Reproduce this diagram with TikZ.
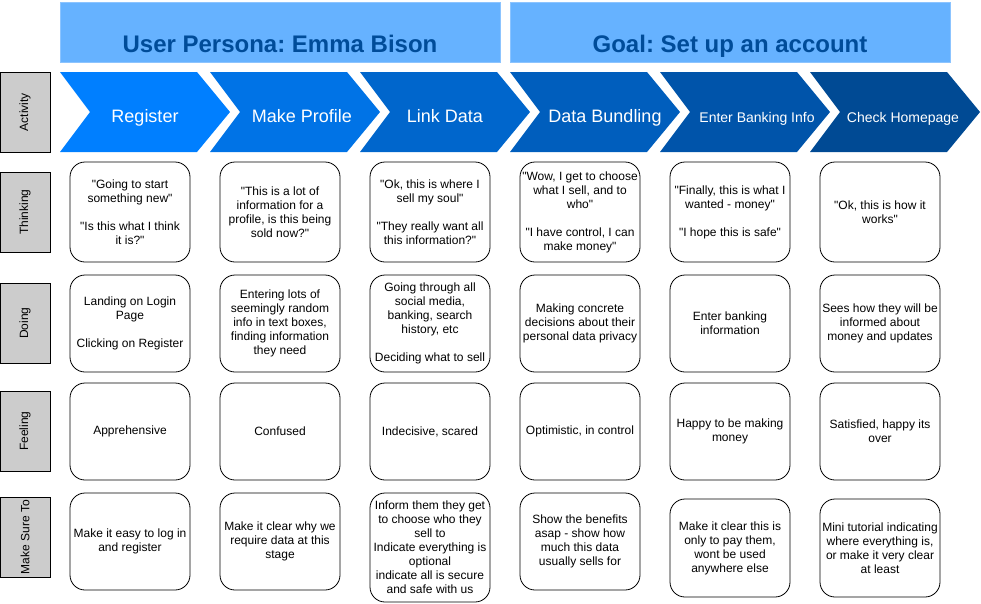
\documentclass[tikz,border=0pt]{standalone}
\usepackage{fontspec}
\newfontfamily\arialfont{Liberation Sans}
\frenchspacing
\definecolor{headblue}{HTML}{66B2FF}
\definecolor{headline}{HTML}{8CC4FF}
\definecolor{headtext}{HTML}{004C99}
\definecolor{stepA}{HTML}{007FFF}
\definecolor{stepB}{HTML}{0073E6}
\definecolor{stepC}{HTML}{0066CC}
\definecolor{stepD}{HTML}{005EBD}
\definecolor{stepE}{HTML}{0054AA}
\definecolor{stepF}{HTML}{004A94}
\definecolor{labelgray}{HTML}{CCCCCC}
\begin{document}
\begin{tikzpicture}[x=1pt,y=-1pt,
    header/.style={fill=headblue, draw=headline, minimum width=440pt, minimum height=60pt, inner sep=0pt},
    headtitle/.style={text=headtext, anchor=base, font=\arialfont\fontsize{24}{28}\selectfont\bfseries},
    steptext/.style={text=white, anchor=base, font=\arialfont\fontsize{18}{20}\selectfont},
    smallstep/.style={steptext, font=\arialfont\fontsize{14}{16}\selectfont},
    rowlabel/.style={draw=black, fill=labelgray, line width=0.8pt, minimum width=80pt, minimum height=50pt, inner sep=0pt, rotate=90, font=\arialfont\fontsize{12}{14}\selectfont},
    card/.style={draw=black, fill=white, line width=0.8pt, rounded corners=15pt, minimum width=120pt, inner sep=0pt, align=center, font=\arialfont\fontsize{12}{14}\selectfont}]
    \useasboundingbox (0,0) rectangle (981,603);

    % headers
    \node[header] (persona) at (280,32) {};
    \node[header] (goal) at (730,32) {};
    \node[headtitle] (personatxt) at (280,52) {User Persona: Emma Bison};
    \node[headtitle] (goaltxt) at (730,52) {Goal: Set up an account};

    % activity chevrons
    \fill[stepA] (60,72) -- (197,72) -- (230,112) -- (197,152) -- (60,152) -- (90,112) -- cycle;
    \fill[stepB] (210,72) -- (347,72) -- (380,112) -- (347,152) -- (210,152) -- (240,112) -- cycle;
    \fill[stepC] (360,72) -- (497,72) -- (530,112) -- (497,152) -- (360,152) -- (390,112) -- cycle;
    \fill[stepD] (510,72) -- (647,72) -- (680,112) -- (647,152) -- (510,152) -- (540,112) -- cycle;
    \fill[stepE] (660,72) -- (797,72) -- (830,112) -- (797,152) -- (660,152) -- (690,112) -- cycle;
    \fill[stepF] (810,72) -- (947,72) -- (980,112) -- (947,152) -- (810,152) -- (840,112) -- cycle;
    \node[steptext] (register) at (145,122) {Register};
    \node[steptext] (profile) at (302,122) {Make Profile};
    \node[steptext] (link) at (445,122) {Link Data};
    \node[steptext] (bundle) at (605,122) {Data Bundling};
    \node[smallstep] (banking) at (757,122) {Enter Banking Info};
    \node[smallstep] (home) at (903,122) {Check Homepage};

    % row labels
    \node[rowlabel] (activity) at (25,112) {Activity};
    \node[rowlabel] (thinking) at (25,212) {Thinking};
    \node[rowlabel] (doing) at (25,323) {Doing};
    \node[rowlabel] (feeling) at (25,431) {Feeling};
    \node[rowlabel] (makesure) at (25,537) {Make Sure To};

    % thinking
    \node[card, minimum height=100pt] (think1) at (130,212) {"Going to start\\something new"\\[14pt]"Is this what I think\\it is?"};
    \node[card, minimum height=100pt] (think2) at (280,212) {"This is a lot of\\information for a\\profile, is this being\\sold now?"};
    \node[card, minimum height=100pt] (think3) at (430,212) {"Ok, this is where I\\sell my soul"\\[14pt]"They really want all\\this information?"};
    \node[card, minimum height=100pt] (think4) at (580,212) {"Wow, I get to choose\\what I sell, and to\\who"\\[14pt]"I have control, I can\\make money"};
    \node[card, minimum height=100pt] (think5) at (730,212) {"Finally, this is what I\\wanted - money"\\[14pt]"I hope this is safe"};
    \node[card, minimum height=100pt] (think6) at (880,212) {"Ok, this is how it\\works"};

    % doing
    \node[card, minimum height=97pt] (do1) at (130,323.5) {Landing on Login\\Page\\[14pt]Clicking on Register};
    \node[card, minimum height=97pt] (do2) at (280,323.5) {Entering lots of\\seemingly random\\info in text boxes,\\finding information\\they need};
    \node[card, minimum height=97pt] (do3) at (430,323.5) {Going through all\\social media,\\banking, search\\history, etc\\[14pt]Deciding what to sell};
    \node[card, minimum height=97pt] (do4) at (580,323.5) {Making concrete\\decisions about their\\personal data privacy};
    \node[card, minimum height=97pt] (do5) at (730,323.5) {Enter banking\\information};
    \node[card, minimum height=97pt] (do6) at (880,323.5) {Sees how they will be\\informed about\\money and updates};

    % feeling
    \node[card, minimum height=97pt] (feel1) at (130,431.5) {Apprehensive};
    \node[card, minimum height=97pt] (feel2) at (280,431.5) {Confused};
    \node[card, minimum height=97pt] (feel3) at (430,431.5) {Indecisive, scared};
    \node[card, minimum height=97pt] (feel4) at (580,431.5) {Optimistic, in control};
    \node[card, minimum height=97pt] (feel5) at (730,431.5) {Happy to be making\\money};
    \node[card, minimum height=97pt] (feel6) at (880,431.5) {Satisfied, happy its\\over};

    % make sure to
    \node[card, minimum height=97pt] (sure1) at (130,541.5) {Make it easy to log in\\and register};
    \node[card, minimum height=97pt] (sure2) at (280,541.5) {Make it clear why we\\require data at this\\stage};
    \node[card, minimum height=109pt] (sure3) at (430,547.5) {Inform them they get\\to choose who they\\sell to\\Indicate everything is\\optional\\indicate all is secure\\and safe with us};
    \node[card, minimum height=97pt] (sure4) at (580,541.5) {Show the benefits\\asap - show how\\much this data\\usually sells for};
    \node[card, minimum height=98pt] (sure5) at (730,548) {Make it clear this is\\only to pay them,\\wont be used\\anywhere else};
    \node[card, minimum height=98pt] (sure6) at (880,548) {Mini tutorial indicating\\where everything is,\\or make it very clear\\at least};
\end{tikzpicture}
\end{document}
